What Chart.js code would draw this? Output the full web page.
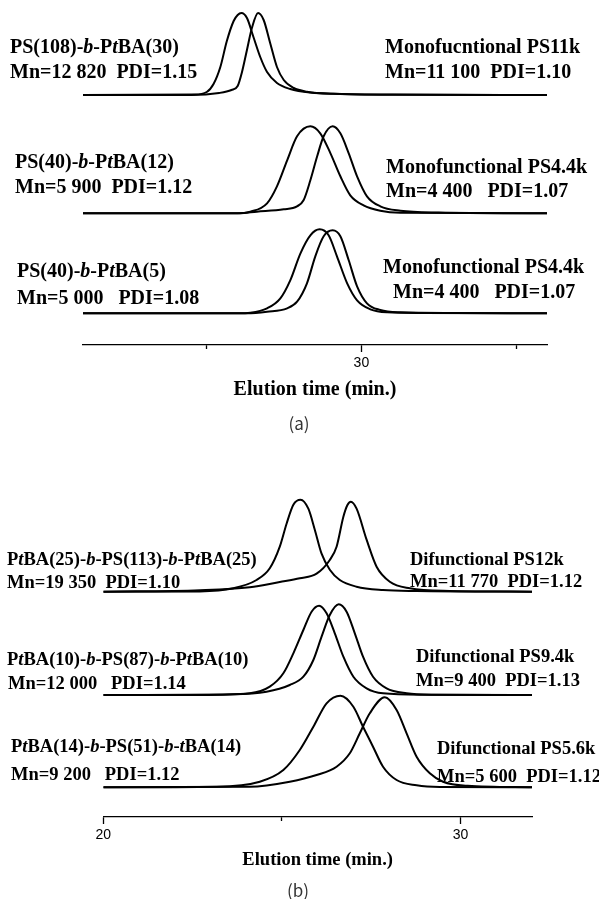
<!DOCTYPE html>
<html>
<head>
<meta charset="utf-8">
<script src="https://cdn.jsdelivr.net/npm/chart.js@4.4.0/dist/chart.umd.min.js"></script>
<style>
  body { margin: 0; background: #fff; }
  #page { position: relative; width: 599px; height: 899px; overflow: hidden; background: #fff; }
  canvas { position: absolute; left: 0; }
  .lbl { position: absolute; font-family: "Liberation Serif", "Times New Roman", serif; font-weight: bold;
         white-space: pre; color: #000; line-height: 1; }
  .tag { position: absolute; font-family: "Noto Sans CJK KR", "DejaVu Sans", sans-serif; font-size: 17px;
         color: #333; line-height: 1; transform: translate(-50%, -50%); }
</style>
</head>
<body>
<div id="page">
  <canvas id="chartA" width="599" height="420" style="top:0"></canvas>
  <canvas id="chartB" width="599" height="460" style="top:430px"></canvas>
  <div class="tag" style="left:299px; top:422px">(a)</div>
  <div class="tag" style="left:298px; top:889px">(b)</div>
</div>
<script>
// Panel (a): elution time (min) vs detector signal, [time, signal]
const copoA1 = [[21, 0], [24.6, 0.5], [25.0, 3], [25.22, 11], [25.44, 28], [25.65, 54], [25.87, 74], [26.0, 80],
  [26.12, 82], [26.3, 77], [26.51, 58], [26.73, 38], [26.95, 23], [27.27, 12], [27.7, 6], [28.35, 2.4],
  [29.3, 1], [31, 0.3], [36, 0]];
const precA1 = [[21, 0], [24.5, 0], [25.4, 2], [25.8, 5], [26.0, 9], [26.14, 23], [26.3, 45], [26.46, 67],
  [26.66, 82], [26.84, 75], [27.05, 52], [27.27, 28], [27.49, 15], [27.81, 7], [28.24, 3.3], [29.1, 1.2],
  [31, 0.4], [36, 0]];
const copoA2 = [[21, 0], [26.0, 0], [26.41, 1.6], [26.95, 10], [27.27, 27], [27.6, 53], [27.92, 77],
  [28.35, 87], [28.67, 80], [29.0, 60], [29.32, 37], [29.64, 18], [30.07, 8], [30.61, 2.6], [31.26, 0.6],
  [36, 0]];
const precA2 = [[21, 0], [26.0, 0], [26.62, 1.6], [27.49, 4], [27.92, 7], [28.13, 13], [28.35, 33],
  [28.57, 57], [28.78, 77], [29.07, 87], [29.32, 80], [29.59, 60], [29.86, 37], [30.18, 17], [30.61, 7],
  [31.26, 2.6], [32.5, 0.8], [36, 0]];
const copoA3 = [[21, 0], [26.0, 0], [26.41, 0.6], [26.95, 5], [27.38, 15], [27.7, 33], [28.03, 60],
  [28.35, 78], [28.65, 84], [28.94, 78], [29.21, 57], [29.54, 30], [29.86, 13], [30.29, 4], [30.83, 1],
  [32, 0.3], [36, 0]];
const precA3 = [[21, 0], [26.3, 0], [26.95, 1.6], [27.6, 5], [27.92, 11.6], [28.24, 30], [28.51, 57],
  [28.78, 77], [29.07, 83], [29.32, 77], [29.59, 53], [29.86, 27], [30.18, 10], [30.61, 3.3], [31.26, 1],
  [33, 0.3], [36, 0]];

// Panel (b)
const copoB1 = [[20, 0], [22.7, 0.3], [23.64, 3.4], [24.29, 11.7], [24.66, 23.4], [24.94, 45], [25.13, 68],
  [25.32, 87], [25.52, 92], [25.74, 83], [25.92, 62], [26.11, 38], [26.34, 22], [26.62, 11.7], [27.09, 5],
  [27.83, 1.7], [28.77, 0.7], [32, 0]];
const precB1 = [[20, 0], [22.71, 1.5], [24.1, 4.5], [24.94, 9.7], [25.5, 13.4], [25.97, 18], [26.34, 31.7],
  [26.53, 45], [26.72, 75], [26.83, 86.5], [26.93, 90], [27.09, 83], [27.37, 52], [27.65, 25], [28.02, 10],
  [28.58, 3.4], [29.7, 0.7], [32, 0]];
const copoB2 = [[20, 0], [22.71, 0], [24.1, 1.7], [24.66, 8.3], [25.04, 21.7], [25.32, 41.7], [25.6, 65],
  [25.83, 83.3], [26.04, 89.3], [26.25, 81.7], [26.48, 61.7], [26.72, 38.3], [27.0, 18.3], [27.37, 6.7],
  [27.83, 1.7], [29, 0.3], [32, 0]];
const precB2 = [[20, 0], [23.64, 0.7], [24.57, 3.3], [25.22, 10], [25.6, 18.3], [25.88, 35], [26.11, 58.3],
  [26.34, 80], [26.59, 90.7], [26.81, 83.3], [27.04, 61.7], [27.27, 38.3], [27.55, 18.3], [27.93, 6.7],
  [28.49, 1.7], [29.22, 0.3], [32, 0]];
const copoB3 = [[20, 0], [23.17, 0.6], [24.38, 5.6], [25.04, 17.3], [25.5, 37.3], [25.88, 60.6], [26.25, 84],
  [26.64, 91.6], [27.0, 80.6], [27.27, 60.6], [27.55, 40.6], [27.83, 20.6], [28.21, 7.3], [28.77, 2],
  [29.42, 0.3], [32, 0]];
const precB3 = [[20, 0], [24.1, 0.5], [25.22, 5.6], [25.97, 12.3], [26.53, 20.6], [26.9, 34], [27.18, 54],
  [27.46, 74], [27.88, 90], [28.21, 77.3], [28.49, 54], [28.77, 30.6], [29.14, 14], [29.51, 5.6],
  [30.2, 1.5], [32, 0]];

// axis ticks
const tickValuesA = [25, 30, 35];
const tickLabelsA = ['', '30', ''];
const tickValuesB = [20, 25, 30];
const tickLabelsB = ['20', '', '30'];

// vertical offset of each pair of traces (stacking, top to bottom)
const stackA = [250, 131.7, 31.7];
const stackB = [225.3, 122, 29.7];

function toPoints(arr, base) {
  return arr.map(p => ({ x: p[0], y: p[1] + base }));
}

function traceSets(pairs, stack) {
  const sets = [];
  pairs.forEach((pair, i) => {
    pair.forEach(arr => sets.push({ data: toPoints(arr, stack[i]) }));
  });
  return sets;
}

function makeChart(id, opts) {
  const ctx = document.getElementById(id).getContext('2d');
  return new Chart(ctx, {
    type: 'line',
    data: { datasets: opts.datasets },
    options: {
      responsive: false,
      animation: false,
      devicePixelRatio: 1,
      layout: { padding: opts.padding },
      plugins: { legend: { display: false }, tooltip: { enabled: false } },
      elements: {
        point: { radius: 0 },
        line: { borderWidth: 2, borderColor: '#000', cubicInterpolationMode: 'monotone', fill: false },
      },
      scales: {
        x: {
          type: 'linear',
          min: opts.xMin,
          max: opts.xMax,
          afterBuildTicks: (axis) => {
            axis.ticks = opts.tickValues.map(v => ({ value: v }));
          },
          afterFit: (axis) => {
            axis.height = opts.axisHeight;
          },
          grid: {
            drawOnChartArea: false,
            tickLength: 7,
            tickColor: '#000',
            tickWidth: 1.3,
            tickBorderDash: (c) => (opts.tickLabels[c.index] ? [] : [3.7, 20]),
          },
          border: { color: '#000', width: 1.3 },
          ticks: {
            autoSkip: false,
            maxRotation: 0,
            padding: 3,
            color: '#000',
            font: { family: 'Liberation Sans', size: 14 },
            callback: (v, i) => opts.tickLabels[i],
          },
          title: {
            display: true,
            text: 'Elution time (min.)',
            color: '#000',
            font: { family: 'Liberation Serif', size: opts.titleSize, weight: 'bold' },
            padding: { top: 0, bottom: opts.titlePad },
          },
        },
        y: { display: false, min: 0, max: opts.yMax },
      },
    },
  });
}

makeChart('chartA', {
  datasets: traceSets([[copoA1, precA1], [copoA2, precA2], [copoA3, precA3]], stackA),
  padding: { left: 83, right: 52, top: 0, bottom: 0 },
  xMin: 21, xMax: 36,
  tickValues: tickValuesA, tickLabels: tickLabelsA,
  axisHeight: 75, titleSize: 20, titlePad: 18,
  yMax: 345,
});

makeChart('chartB', {
  datasets: traceSets([[copoB1, precB1], [copoB2, precB2], [copoB3, precB3]], stackB),
  padding: { left: 103.3, right: 67, top: 0, bottom: 0 },
  xMin: 20, xMax: 32,
  tickValues: tickValuesB, tickLabels: tickLabelsB,
  axisHeight: 73, titleSize: 18.5, titlePad: 18.9,
  yMax: 387,
});

// sample annotations
const labels = [
  [10, 46.3, 20, 'PS(108)-<i>b</i>-P<i>t</i>BA(30)'],
  [10, 70.7, 20, 'Mn=12 820  PDI=1.15'],
  [385, 46, 20, 'Monofucntional PS11k'],
  [385, 70.8, 20, 'Mn=11 100  PDI=1.10'],
  [15, 161, 20, 'PS(40)-<i>b</i>-P<i>t</i>BA(12)'],
  [15, 186, 20, 'Mn=5 900  PDI=1.12'],
  [386, 166, 20, 'Monofunctional PS4.4k'],
  [386, 190, 20, 'Mn=4 400   PDI=1.07'],
  [17, 270, 20, 'PS(40)-<i>b</i>-P<i>t</i>BA(5)'],
  [17, 297, 20, 'Mn=5 000   PDI=1.08'],
  [383, 266, 20, 'Monofunctional PS4.4k'],
  [393, 291, 20, 'Mn=4 400   PDI=1.07'],
  [7, 559.7, 18.5, 'P<i>t</i>BA(25)-<i>b</i>-PS(113)-<i>b</i>-P<i>t</i>BA(25)'],
  [7, 582.5, 18.5, 'Mn=19 350  PDI=1.10'],
  [410, 559, 18.5, 'Difunctional PS12k'],
  [410, 581, 18.5, 'Mn=11 770  PDI=1.12'],
  [7, 659.7, 18.5, 'P<i>t</i>BA(10)-<i>b</i>-PS(87)-<i>b</i>-P<i>t</i>BA(10)'],
  [8, 683, 18.5, 'Mn=12 000   PDI=1.14'],
  [416, 656, 18.5, 'Difunctional PS9.4k'],
  [416, 680, 18.5, 'Mn=9 400  PDI=1.13'],
  [11, 746, 18.5, 'P<i>t</i>BA(14)-<i>b</i>-PS(51)-<i>b</i>-<i>t</i>BA(14)'],
  [11, 774, 18.5, 'Mn=9 200   PDI=1.12'],
  [437, 748, 18.5, 'Difunctional PS5.6k'],
  [437, 776, 18.5, 'Mn=5 600  PDI=1.12'],
];

const page = document.getElementById('page');
labels.forEach(([x, y, size, html]) => {
  const d = document.createElement('div');
  d.className = 'lbl';
  d.style.left = x + 'px';
  d.style.top = (y - 0.507 * size) + 'px';
  d.style.fontSize = size + 'px';
  d.innerHTML = html;
  page.appendChild(d);
});
</script>
</body>
</html>
